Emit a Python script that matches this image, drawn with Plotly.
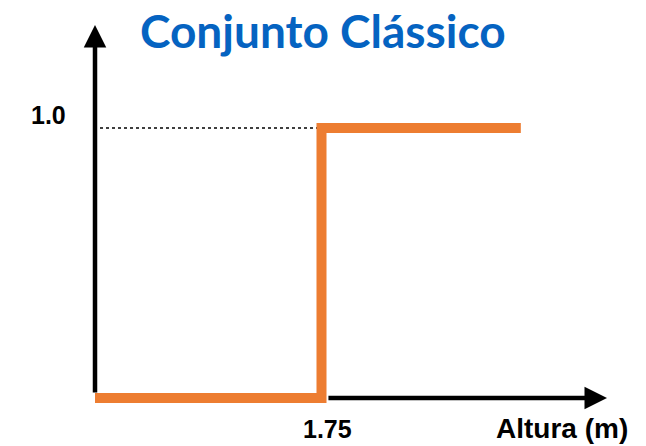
import plotly.graph_objects as go

# Classical (crisp) set: membership 0 below 1.75 m, 1 from 1.75 m on
altura = [1.50, 1.75, 1.75, 1.97]
pertinencia = [0, 0, 1, 1]
limiar = 1.75
tick_x_label = "1.75"
tick_y_label = "1.0"
titulo = "Conjunto Clássico"
eixo_x_label = "Altura (m)"

# pixel-to-data helpers for the layout (plot area = full canvas)
W, H = 646, 446
x0_px, x_px_per_unit = 95, 906.0
y0_px, y_px_per_unit = 398, 270.0
def xd(px):
    return altura[0] + (px - x0_px) / x_px_per_unit
def yd(py):
    return (y0_px - py) / y_px_per_unit

fig = go.Figure()

# dotted guide at membership 1
fig.add_trace(go.Scatter(
    x=[xd(100), limiar], y=[pertinencia[-1], pertinencia[-1]],
    mode="lines", line=dict(color="black", width=1.5, dash="dot"),
    hoverinfo="skip", showlegend=False))

# step function
fig.add_trace(go.Scatter(
    x=altura, y=pertinencia, mode="lines",
    line=dict(color="#ED7D31", width=10),
    hoverinfo="skip", showlegend=False))

lab_font = dict(family="Liberation Sans, Arial", size=25, color="black", weight="bold")
annotations = [
    # y axis arrow
    dict(x=altura[0], y=yd(25), ax=altura[0], ay=yd(394),
         xref="x", yref="y", axref="x", ayref="y",
         showarrow=True, arrowhead=2, arrowsize=1, arrowwidth=4.5,
         arrowcolor="black", text=""),
    # x axis arrow (from end of orange bottom segment)
    dict(x=xd(607), y=0, ax=limiar + 0.006, ay=0,
         xref="x", yref="y", axref="x", ayref="y",
         showarrow=True, arrowhead=2, arrowsize=1, arrowwidth=4.5,
         arrowcolor="black", text=""),
    dict(x=xd(327), y=yd(429), xref="x", yref="y", text=tick_x_label,
         showarrow=False, font=dict(lab_font),
         xanchor="center", yanchor="middle"),
    dict(x=xd(562), y=yd(428), xref="x", yref="y", text=eixo_x_label,
         showarrow=False, font=dict(lab_font, size=28),
         xanchor="center", yanchor="middle"),
    dict(x=xd(48), y=yd(115), xref="x", yref="y", text=tick_y_label,
         showarrow=False, font=dict(lab_font),
         xanchor="center", yanchor="middle"),
    dict(x=xd(323), y=yd(30), xref="x", yref="y", text=titulo,
         showarrow=False, font=dict(family="Lato", size=46, color="#0563C1", weight="bold"),
         xanchor="center", yanchor="middle"),
]

fig.update_layout(
    width=W, height=H,
    margin=dict(l=0, r=0, t=0, b=0),
    paper_bgcolor="white", plot_bgcolor="white",
    xaxis=dict(range=[xd(0), xd(W)], visible=False, fixedrange=True),
    yaxis=dict(range=[yd(H), yd(0)], visible=False, fixedrange=True),
    annotations=annotations,
    showlegend=False,
)

fig.write_html("out.html", config={"displayModeBar": False},
               post_script="document.body.style.margin='0';document.body.style.padding='0';")
